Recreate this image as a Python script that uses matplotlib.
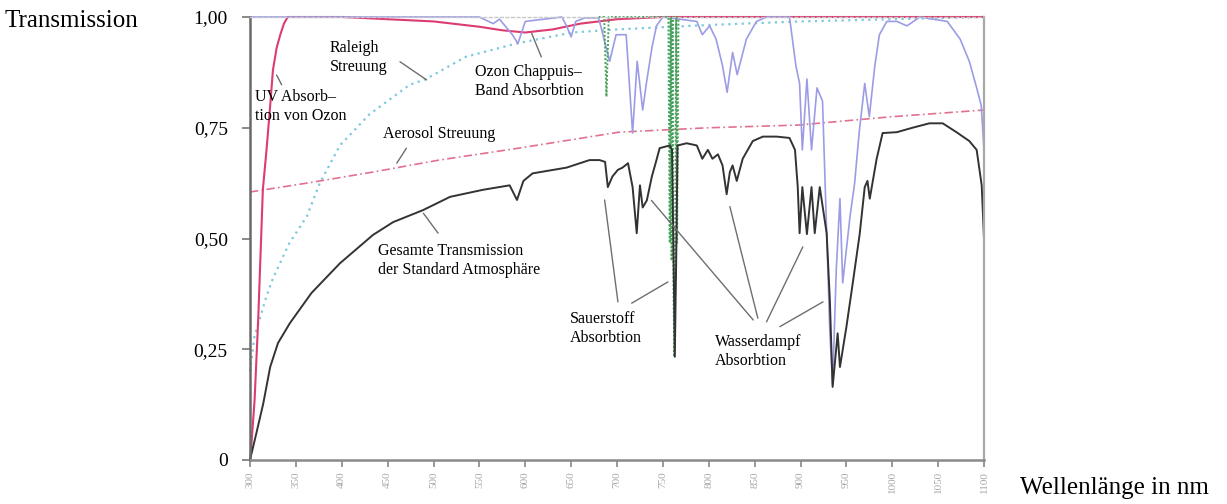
import matplotlib
matplotlib.use('agg')
import matplotlib.pyplot as plt

plt.rcParams['font.family'] = ['Liberation Serif', 'DejaVu Serif']

# wavelength axis (nm) and transmission axis
xticks_nm = list(range(300, 1101, 50))
yticks = [0.0, 0.25, 0.5, 0.75, 1.0]
ytick_labels = ['0', '0,25', '0,50', '0,75', '1,00']

# UV + Chappuis absorption of ozone
ozone_nm = [300, 301, 305, 309, 314, 318, 322, 325, 329, 333, 337, 341,
            400, 450, 500, 550, 575, 600, 630, 660, 700, 750, 1100]
ozone_t = [0.0, 0.02, 0.135, 0.32, 0.61, 0.70, 0.80, 0.88, 0.93, 0.96, 0.985, 1.0,
           1.0, 0.995, 0.99, 0.978, 0.97, 0.965, 0.972, 0.985, 0.995, 1.0, 1.0]

# Rayleigh scattering
rayleigh_nm = [300, 305, 318, 325, 343, 362, 376, 398, 430, 474, 492, 535,
               590, 651, 700, 800, 900, 1000, 1100]
rayleigh_t = [0.20, 0.28, 0.37, 0.41, 0.49, 0.55, 0.625, 0.71, 0.78, 0.847, 0.86, 0.91,
              0.94, 0.965, 0.972, 0.982, 0.99, 0.995, 1.0]

# aerosol scattering
aerosol_nm = [300, 362, 434, 506, 593, 702, 800, 897, 1000, 1100]
aerosol_t = [0.605, 0.625, 0.65, 0.677, 0.704, 0.74, 0.75, 0.756, 0.775, 0.79]

# water vapour absorption
water_nm = [300, 550, 565, 572, 586, 592, 600, 640, 645, 650, 655, 665, 680,
            692, 699, 710, 717, 722, 728, 732, 738, 743, 750, 787, 793, 801, 808,
            815, 820, 826, 831, 841, 852, 863, 888, 895, 899, 902, 907, 912, 918,
            924, 932, 935, 939, 943, 946, 954, 959, 964, 970, 975, 981, 986, 994,
            1005, 1016, 1030, 1060, 1074, 1084, 1092, 1097, 1100]
water_t = [1.0, 1.0, 0.985, 0.995, 0.96, 0.94, 0.99, 1.0, 0.98, 0.955, 0.99, 0.998, 0.998,
           0.90, 0.96, 0.96, 0.738, 0.90, 0.79, 0.85, 0.93, 0.98, 1.0, 0.99, 0.96, 0.98, 0.95,
           0.89, 0.83, 0.92, 0.87, 0.95, 0.99, 1.0, 1.0, 0.89, 0.85, 0.70, 0.86, 0.70, 0.84,
           0.81, 0.286, 0.17, 0.43, 0.59, 0.40, 0.55, 0.625, 0.74, 0.85, 0.775, 0.89, 0.96, 0.99,
           0.99, 0.98, 1.0, 0.99, 0.95, 0.90, 0.84, 0.80, 0.70]

# oxygen B and A bands
oxygen_nm = [680, 686, 688.5, 691, 756, 757.5, 758.5, 759.5, 760.5, 761.5, 762.5, 763.5,
             764.5, 765.5, 767]
oxygen_t = [1.0, 1.0, 0.82, 1.0, 1.0, 0.49, 1.0, 0.45, 1.0, 0.40, 0.233, 0.50,
            1.0, 0.49, 1.0]

# total transmission of the standard atmosphere
total_nm = [300, 307, 314.5, 322, 330.5, 343.5, 367, 398, 434, 456, 488.5, 518, 554,
            583, 591, 598, 608, 645, 670, 681, 687, 690, 695, 701, 706, 712, 717,
            721.5, 725, 728, 732.5, 738, 743, 746.5, 757.5, 760, 762, 763, 764.5, 766,
            776, 787, 793, 799, 804, 810, 815, 819.5, 823, 826, 830.5, 837, 848,
            859, 874, 888, 894, 897, 899, 902, 907, 912, 915.5, 921, 928.5, 932,
            935, 940.5, 943, 950, 957, 964.5, 970, 973, 975.5, 983, 989.5, 1005,
            1022, 1040.5, 1055, 1070, 1084, 1092, 1097.5, 1100]
total_t = [0.0, 0.061, 0.128, 0.21, 0.264, 0.309, 0.377, 0.444, 0.508, 0.537, 0.564, 0.594, 0.61,
           0.62, 0.587, 0.63, 0.647, 0.66, 0.677, 0.677, 0.673, 0.616, 0.64, 0.655, 0.66, 0.67, 0.616,
           0.512, 0.62, 0.57, 0.586, 0.64, 0.677, 0.704, 0.71, 0.70, 0.40, 0.233, 0.45, 0.71,
           0.715, 0.71, 0.68, 0.70, 0.68, 0.69, 0.665, 0.60, 0.65, 0.665, 0.63, 0.68, 0.72,
           0.73, 0.73, 0.727, 0.70, 0.616, 0.512, 0.616, 0.51, 0.616, 0.512, 0.616, 0.512, 0.36,
           0.165, 0.286, 0.21, 0.30, 0.40, 0.51, 0.616, 0.63, 0.59, 0.68, 0.738, 0.74,
           0.75, 0.76, 0.76, 0.74, 0.72, 0.70, 0.62, 0.50]

# annotation texts: (text, x, y)
labels = [
    ('UV Absorb\u2013\ntion von Ozon', 305.5, 0.797),
    ('Raleigh\nStreuung', 387, 0.908),
    ('Ozon Chappuis\u2013\nBand Absorbtion', 545, 0.855),
    ('Aerosol Streuung', 445, 0.736),
    ('Gesamte Transmission\nder Standard Atmosph\u00e4re', 439.5, 0.45),
    ('Sauerstoff\nAbsorbtion', 648.5, 0.296),
    ('Wasserdampf\nAbsorbtion', 806.5, 0.246),
]

# leader lines: (x0, y0, x1, y1)
leaders = [
    (329, 0.869, 334.5, 0.847),
    (463.5, 0.899, 492.5, 0.858),
    (607, 0.963, 617.5, 0.910),
    (460, 0.670, 470.5, 0.704),
    (489, 0.557, 505, 0.512),
    (686.5, 0.587, 701, 0.357),
    (716, 0.354, 755.5, 0.402),
    (737.5, 0.586, 848.5, 0.316),
    (823, 0.572, 853.5, 0.320),
    (902.5, 0.481, 863, 0.312),
    (924.5, 0.357, 877.5, 0.301),
]


def plotTransmission(outfile):
    fig = plt.figure(figsize=(12.27, 5.04), dpi=100)
    ax = fig.add_axes([250 / 1227., 44 / 504., 734 / 1227., 443 / 504.])

    ax.plot(rayleigh_nm, rayleigh_t, color='#7cc8dc', lw=1.6, ls=(0, (1, 2)), clip_on=False)
    ax.plot(aerosol_nm, aerosol_t, color='#e2708e', lw=1.2, ls=(0, (5, 2, 1, 2)), clip_on=False)
    ax.plot(ozone_nm, ozone_t, color='#dc3c72', lw=1.5, clip_on=False)
    ax.plot(water_nm, water_t, color='#9c9ce6', lw=1.2, clip_on=False)
    ax.plot(oxygen_nm, oxygen_t, color='#46a05a', lw=1.4, ls=(0, (1, 1)), clip_on=False)
    ax.plot(total_nm, total_t, color='#333333', lw=1.4, clip_on=False)

    for (x0, y0, x1, y1) in leaders:
        ax.annotate('', xy=(x1, y1), xytext=(x0, y0),
                    arrowprops=dict(arrowstyle='-', color='#6e6e6e', lw=1.0,
                                    shrinkA=0, shrinkB=0))

    for (txt, x, y) in labels:
        ax.text(x, y, txt, fontsize=11.5, va='center', ha='left', linespacing=1.25)

    ax.set_xlim(300, 1100)
    ax.set_ylim(0, 1.0)

    ax.set_xticks(xticks_nm)
    ax.set_xticklabels([str(v) for v in xticks_nm], rotation=90, fontsize=8, color='#a8a8a8')
    ax.set_yticks(yticks)
    ax.set_yticklabels(ytick_labels, fontsize=14)
    ax.tick_params(axis='x', length=5, width=1.2, color='#888888', pad=3)
    ax.tick_params(axis='y', length=6, width=1.2, color='#777777', pad=10)

    ax.spines['left'].set_color('#6a6a6a')
    ax.spines['left'].set_linewidth(1.8)
    ax.spines['bottom'].set_color('#8a8a8a')
    ax.spines['bottom'].set_linewidth(1.8)
    ax.spines['right'].set_color('#a8a8a8')
    ax.spines['right'].set_linewidth(1.6)
    ax.spines['top'].set_color('#c8c8c8')
    ax.spines['top'].set_linewidth(1.0)
    ax.spines['top'].set_linestyle((0, (2, 2)))

    fig.text(0.004, 1 - 21 / 504., 'Transmission', fontsize=18, va='center', ha='left')
    fig.text(1020 / 1227., 1 - 488 / 504., 'Wellenl\u00e4nge in nm', fontsize=18,
             va='center', ha='left')

    plt.savefig(outfile, dpi=100)
    plt.close(fig)


if __name__ == '__main__':
    plotTransmission('out.png')
